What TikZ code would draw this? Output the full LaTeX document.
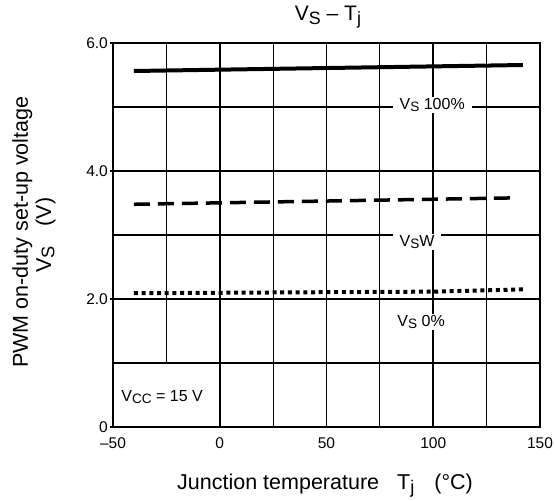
\documentclass[tikz,border=0pt]{standalone}
\usepackage{fontspec}
\setmainfont{Liberation Sans}
\newcommand\sbs[1]{\raisebox{-0.3ex}{\scalebox{0.85}{#1}}}
\begin{document}
\begin{tikzpicture}[x=1pt,y=1pt,
  thingrid/.style={line width=1.1pt},
  thickgrid/.style={line width=1.8pt},
  plotframe/.style={line width=2.5pt},
  curvelabel/.style={fill=white,inner xsep=7pt,inner ysep=1pt,font=\fontsize{16}{18}\selectfont},
  ticklab/.style={font=\fontsize{15.5}{17}\selectfont,inner sep=0pt},
  axlab/.style={font=\fontsize{21.5}{24}\selectfont,inner sep=0pt},
  solidcurve/.style={line width=4pt},
  dashcurve/.style={line width=3.5pt,dash pattern=on 16pt off 8pt},
  dotcurve/.style={line width=4pt,dash pattern=on 4pt off 3.7pt}]
\useasboundingbox (0,0) rectangle (555,501);
\begin{scope}[shift={(219.75,74)},x=2.135pt,y=64pt]
  % grid
  \draw[thingrid] (-25,1) -- (-25,6);
  \foreach \t in {25,75,125} \draw[thingrid] (\t,0) -- (\t,6);
  \foreach \t in {0,50,100} \draw[thickgrid] (\t,0) -- (\t,6);
  \foreach \v in {1,3,5} \draw[thingrid] (-50,\v) -- (150,\v);
  \foreach \v in {2,4} \draw[thickgrid] (-50,\v) -- (150,\v);
  \foreach \v in {0,2,4,6} \draw[thickgrid] (-50,\v) -- ++(-3pt,0);
  \draw[plotframe] (-50,0) rectangle (150,6);
  % curve labels
  \node[curvelabel] (l100) at (99.5,5.03) {V\sbs{S} 100\%};
  \node[curvelabel] (lw) at (92.4,2.89) {V\sbs{S}W};
  \node[curvelabel] (l0) at (94.3,1.64) {V\sbs{S} 0\%};
  \node[font=\fontsize{16}{18}\selectfont,inner sep=0pt] (vcc) at (-27,0.47) {V\sbs{CC} = 15 V};
  % curves
  \coordinate (a1) at (-40.2,5.5625);
  \coordinate (a2) at (142,5.656);
  \draw[solidcurve] (a1) -- (a2);
  \coordinate (b1) at (-40.2,3.48);
  \coordinate (b2) at (138,3.58);
  \draw[dashcurve] (b1) -- (b2);
  \coordinate (c1) at (-40.2,2.09);
  \coordinate (c2) at (100,2.115);
  \coordinate (c3) at (142,2.15);
  \draw[dotcurve] (c1) -- (c2) -- (c3);
  % tick labels
  \node[ticklab,anchor=east] (y6) at ([xshift=-5pt]-50,6) {6.0};
  \node[ticklab,anchor=east] (y4) at ([xshift=-5pt]-50,4) {4.0};
  \node[ticklab,anchor=east] (y2) at ([xshift=-5pt]-50,2) {2.0};
  \node[ticklab,anchor=east] (y0) at ([xshift=-5pt]-50,0) {0};
  \node[ticklab,anchor=north] (xm50) at ([yshift=-10pt]-50,0) {–50};
  \node[ticklab,anchor=north] (x0) at ([yshift=-10pt]0,0) {0};
  \node[ticklab,anchor=north] (x50) at ([yshift=-10pt]50,0) {50};
  \node[ticklab,anchor=north] (x100) at ([yshift=-10pt]100,0) {100};
  \node[ticklab,anchor=north] (x150) at ([yshift=-10pt]150,0) {150};
\end{scope}
\node[font=\fontsize{21}{24}\selectfont,inner sep=0pt] (title) at (328,484) {V\sbs{S} – T\sbs{j}};
\node[axlab,rotate=90,anchor=base west] (ylab1) at (28,133) {PWM on-duty set-up voltage};
\node[axlab,rotate=90,anchor=base west] (ylab2) at (51,228) {V\sbs{S}\hspace{20pt}(V)};
\node[axlab,anchor=base west] (xlab) at (177,11) {Junction temperature\hspace{18pt}T\sbs{j}\hspace{20pt}(°C)};
\end{tikzpicture}
\end{document}
